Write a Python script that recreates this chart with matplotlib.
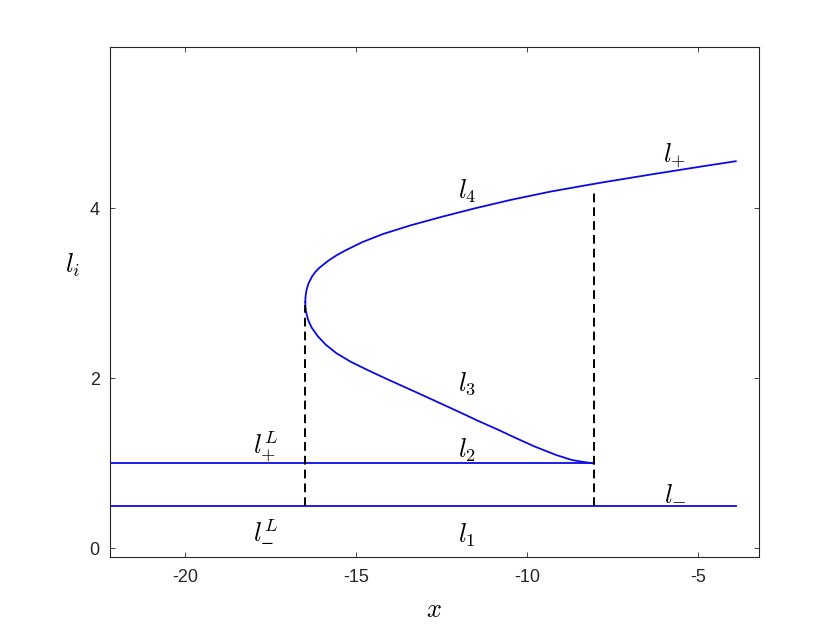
import matplotlib
matplotlib.use("Agg")
import matplotlib.pyplot as plt
import numpy as np

plt.rcParams['mathtext.fontset'] = 'cm'
plt.rcParams['font.family'] = ['Liberation Sans', 'DejaVu Sans']
plt.rcParams['axes.unicode_minus'] = False

# flat branches (l1 = l_-^L / l_-, l2 = l_+^L)
x_left = -22.2
x_right = -3.90
l_low = 0.5
l_mid = 1.0

y_l3 = [2.90, 2.85, 2.80, 2.75, 2.682, 2.60, 2.50, 2.40, 2.30, 2.20, 2.10,
        2.00, 1.90, 1.80, 1.70, 1.60, 1.50, 1.40, 1.30, 1.20, 1.10, 1.04,
        1.02, 1.00]
x_l3 = [-16.48, -16.475, -16.461, -16.438, -16.39, -16.295, -16.12, -15.887,
        -15.58, -15.167, -14.662, -14.131, -13.58, -13.031, -12.49, -11.95,
        -11.42, -10.86, -10.33, -9.78, -9.15, -8.68, -8.38, -8.05]

y_l4 = [2.90, 2.95, 3.00, 3.05, 3.114, 3.20, 3.251, 3.30, 3.388, 3.45,
        3.506, 3.604, 3.70, 3.80, 3.90, 4.00, 4.10, 4.20, 4.30, 4.40, 4.50,
        4.556]
x_l4 = [-16.48, -16.475, -16.461, -16.437, -16.39, -16.282, -16.19, -16.075,
        -15.80, -15.563, -15.31, -14.815, -14.208, -13.418, -12.51, -11.543,
        -10.49, -9.30, -7.895, -6.38, -4.81, -3.90]

# dashed verticals: (x, bottom, top)
dashes = [(-16.48, 0.5, 2.86), (-8.05, 0.5, 4.20)]

# curve labels: (x, y, text)
labels = [(-5.68, 4.62, r'$l_{+}$'),
          (-11.75, 4.20, r'$l_{4}$'),
          (-11.75, 1.94, r'$l_{3}$'),
          (-11.75, 1.15, r'$l_{2}$'),
          (-11.75, 0.15, r'$l_{1}$'),
          (-5.68, 0.66, r'$l_{-}$'),
          (-17.65, 1.21, r'$l_{+}^{L}$'),
          (-17.65, 0.21, r'$l^{L}_{\minus}$')]

blue = '#0a0ae6'
fig = plt.figure(figsize=(8.4, 6.3), dpi=100)
ax = fig.add_axes([0.1304, 0.1159, 0.7732, 0.8095])

ax.plot([x_left, x_right], [l_low, l_low], color=blue, lw=1.3)
ax.plot([x_left, x_l3[-1]], [l_mid, l_mid], color=blue, lw=1.3)
ax.plot(x_l3, y_l3, color=blue, lw=1.3)
ax.plot(x_l4, y_l4, color=blue, lw=1.3)
for xd, y0, y1 in dashes:
    ax.plot([xd, xd], [y0, y1], color='k', lw=1.4, linestyle=(0, (4.5, 2.6)))

for xt, yt, s in labels:
    ax.text(xt, yt, s, fontsize=19, ha='center', va='center')

ax.set_xlim(-22.2, -3.22)
ax.set_ylim(-0.1, 5.9)
ax.set_xticks([-20, -15, -10, -5])
ax.set_yticks([0, 2, 4])
ax.tick_params(direction='in', length=3.6, width=0.6, top=True, right=True,
               labelsize=13, colors='#262626')
ax.tick_params(axis='x', pad=9)
ax.tick_params(axis='y', pad=7)
for sp in ax.spines.values():
    sp.set_color('#262626')
    sp.set_linewidth(0.8)

ax.text(0.5, -0.104, r'$x$', transform=ax.transAxes, fontsize=19,
        ha='center', va='center')
ax.text(-0.056, 0.573, r'$l_i$', transform=ax.transAxes, fontsize=19,
        ha='center', va='center')

fig.savefig('out.png', dpi=100)
